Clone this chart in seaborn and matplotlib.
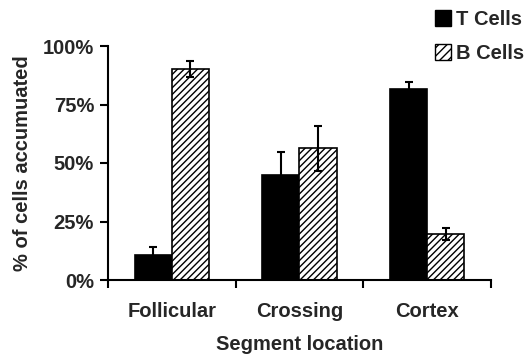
import matplotlib
matplotlib.use("Agg")
import matplotlib.pyplot as plt
import seaborn as sns
import pandas as pd
import numpy as np
from matplotlib.patches import Patch
from matplotlib.ticker import FixedLocator

categories = ["Follicular", "Crossing", "Cortex"]
series = ["T Cells", "B Cells"]
t_vals = [10.7, 45.0, 81.8]
b_vals = [90.3, 56.2, 19.6]
t_err = [3.3, 9.6, 2.9]
b_err = [3.5, 9.6, 2.6]
y_ticks = [0, 25, 50, 75, 100]
y_ticklabels = ["0%", "25%", "50%", "75%", "100%"]

sns.set_style("white")
plt.rcParams['font.family'] = ['Liberation Sans', 'DejaVu Sans']
plt.rcParams['font.weight'] = 'bold'
FS = 14.5

df = pd.DataFrame({
    "Segment": categories * 2,
    "Cell": [series[0]] * 3 + [series[1]] * 3,
    "Value": t_vals + b_vals,
})

fig = plt.figure(figsize=(5.26, 3.54), dpi=100)
ax = fig.add_axes([108/526, 1 - 280/354, (491 - 108)/526, (280 - 46)/354])

sns.barplot(data=df, x="Segment", y="Value", hue="Cell", order=categories,
            hue_order=series, palette=["black", "white"], width=0.58, gap=0,
            edgecolor="black", linewidth=1.2, errorbar=None, legend=False, ax=ax)

plt.rcParams['hatch.linewidth'] = 1.0
n = len(categories)
patches = [p for p in ax.patches][:2 * n]
for i, p in enumerate(patches):
    if i >= n:
        p.set_hatch("/////")
        p.set_facecolor("white")
        p.set_edgecolor("black")

errs = t_err + b_err
vals = t_vals + b_vals
for p, v, e in zip(patches, vals, errs):
    xc = p.get_x() + p.get_width() / 2
    ax.errorbar(xc, v, yerr=e, fmt="none", ecolor="black", elinewidth=1.5,
                capsize=3, capthick=1.5, zorder=5)

ax.set_xlim(-0.5, 2.5)
ax.set_ylim(0, 100)
ax.set_yticks(y_ticks)
ax.set_yticklabels(y_ticklabels, fontsize=FS, fontweight="bold")
ax.set_xticks(range(n))
ax.set_xticklabels(categories, fontsize=FS, fontweight="bold")
ax.xaxis.set_minor_locator(FixedLocator([-0.5, 0.5, 1.5, 2.5]))
ax.tick_params(axis="x", which="major", length=0, pad=16)
ax.tick_params(axis="x", which="minor", length=6, width=1.5, direction="out", color="black", bottom=True)
ax.tick_params(axis="y", which="major", length=6, width=1.5, direction="out", color="black", left=True, pad=4)

for s in ["top", "right"]:
    ax.spines[s].set_visible(False)
for s in ["left", "bottom"]:
    ax.spines[s].set_color("black")
    ax.spines[s].set_linewidth(1.5)

ax.set_xlabel("Segment location", fontsize=FS, fontweight="bold", labelpad=10)
ax.set_ylabel("% of cells accumuated", fontsize=FS, fontweight="bold", labelpad=8)

handles = [Patch(facecolor="black", edgecolor="black", label=series[0]),
           Patch(facecolor="white", edgecolor="black", hatch="////", label=series[1])]
fig.legend(handles=handles, loc="upper left", bbox_to_anchor=(435/526, 1 - 10/354),
           frameon=False, prop={"size": FS, "weight": "bold"}, borderpad=0, borderaxespad=0,
           handlelength=0.8, handleheight=0.8, handletextpad=0.25, labelspacing=0.75)

fig.savefig("out.png", dpi=100)
